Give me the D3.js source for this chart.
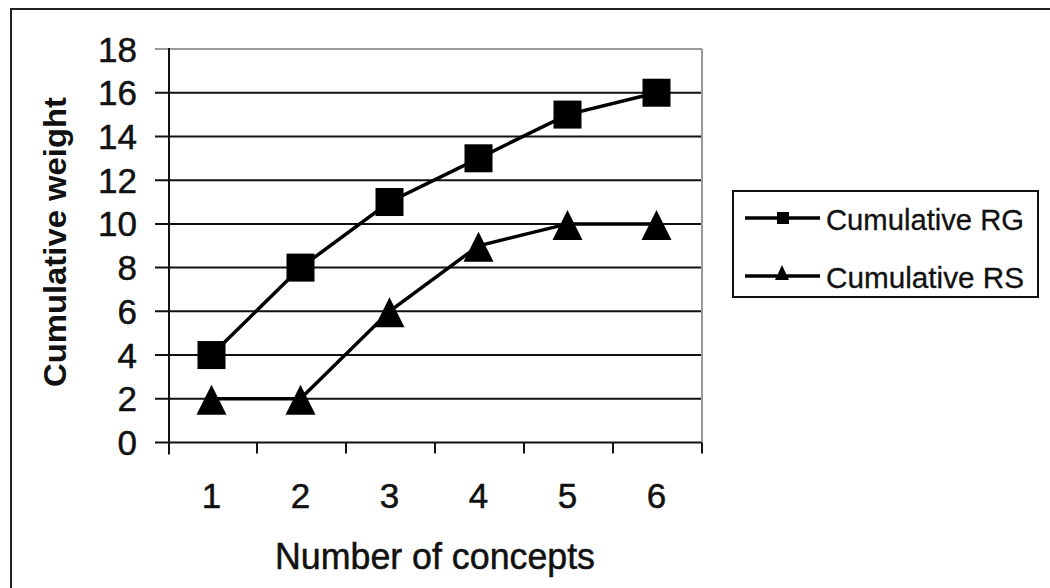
<!DOCTYPE html>
<html><head><meta charset="utf-8">
<script src="https://cdn.jsdelivr.net/npm/d3@7"></script>
<style>html,body{margin:0;padding:0;background:#fff;}svg{display:block;}</style>
</head><body>
<script>
const categories = ["1","2","3","4","5","6"];
const seriesRG = [4, 8, 11, 13, 15, 16];
const seriesRS = [2, 2, 6, 9, 10, 10];
const yTicks = [0, 2, 4, 6, 8, 10, 12, 14, 16, 18];
const seriesNames = ["Cumulative RG", "Cumulative RS"];
const xTitle = "Number of concepts";
const yTitle = "Cumulative weight";

const W = 1050, H = 588;
const svg = d3.select("body").append("svg").attr("width", W).attr("height", H);
const font = "'Liberation Sans', Arial, sans-serif";

// outer frame
svg.append("path").attr("d", `M11,${H} L11,9 L${W},9`).attr("fill","none").attr("stroke","#222").attr("stroke-width",2);

const x = d3.scaleBand().domain(categories).range([168, 702]).padding(0);
const y = d3.scaleLinear().domain([0, 18]).range([442.5, 49]);

const txt = sel => sel.attr("font-family", font).attr("fill","#111").attr("stroke","#111").attr("stroke-width",0.5);

const g = svg.append("g");
yTicks.forEach(t => {
  g.append("line").attr("x1", 155).attr("x2", x.range()[1]).attr("y1", y(t)).attr("y2", y(t))
    .attr("stroke", t === 18 ? "#999" : "#111").attr("stroke-width", 2);
  g.append("text").attr("x", 137).attr("y", y(t)).attr("dy", "0.36em")
    .attr("text-anchor","end").attr("font-size", 35).call(txt).text(t);
});
g.append("line").attr("x1", x.range()[1]).attr("x2", x.range()[1]).attr("y1", y(18)).attr("y2", y(0))
  .attr("stroke","#999").attr("stroke-width",2);
g.append("line").attr("x1", x.range()[0]+1).attr("x2", x.range()[0]+1).attr("y1", y(18)-1).attr("y2", y(0)+12)
  .attr("stroke","#111").attr("stroke-width",2);
categories.forEach(c => {
  const bx = x(c) + x.bandwidth();
  g.append("line").attr("x1", bx).attr("x2", bx).attr("y1", y(0)).attr("y2", y(0)+11)
    .attr("stroke","#111").attr("stroke-width",2);
  g.append("text").attr("x", x(c) + x.bandwidth()/2 - 1).attr("y", 508)
    .attr("text-anchor","middle").attr("font-size", 35).call(txt).text(c);
});

svg.append("text").attr("x", 435).attr("y", 569).attr("text-anchor","middle")
  .attr("font-size", 36).call(txt)
  .attr("textLength", 320).attr("lengthAdjust","spacingAndGlyphs").text(xTitle);
svg.append("text").attr("transform","translate(66,242) rotate(-90)").attr("text-anchor","middle")
  .attr("font-family", font).attr("font-size", 31).attr("font-weight","bold").attr("fill","#111")
  .attr("textLength", 290).attr("lengthAdjust","spacingAndGlyphs").text(yTitle);

const cx = c => x(c) + x.bandwidth()/2 - 1;
const line = d3.line().x(d => cx(d.c)).y(d => y(d.v));
const rg = categories.map((c,i)=>({c, v: seriesRG[i]}));
const rs = categories.map((c,i)=>({c, v: seriesRS[i]}));
[rg, rs].forEach(s => {
  svg.append("path").attr("d", line(s)).attr("fill","none").attr("stroke","#000").attr("stroke-width",3.5);
});
const tri = (px, py, w, up, down) => `M${px},${py - up} L${px + w/2},${py + down} L${px - w/2},${py + down} Z`;
svg.selectAll(".sq").data(rg).join("rect")
  .attr("x", d => cx(d.c) - 14).attr("y", d => y(d.v) - 14).attr("width", 28).attr("height", 28).attr("fill","#000");
svg.selectAll(".tr").data(rs).join("path")
  .attr("d", d => tri(cx(d.c), y(d.v), 30, 14, 16)).attr("fill","#000");

const lg = svg.append("g");
lg.append("rect").attr("x", 733).attr("y", 191).attr("width", 305).attr("height", 106)
  .attr("fill","#fff").attr("stroke","#111").attr("stroke-width",2);
[[218, "sq", seriesNames[0]], [276, "tr", seriesNames[1]]].forEach(([ly, m, name]) => {
  lg.append("line").attr("x1", 745).attr("x2", 820).attr("y1", ly).attr("y2", ly).attr("stroke","#000").attr("stroke-width",3.5);
  if (m === "sq") lg.append("rect").attr("x", 777).attr("y", ly-6).attr("width", 12).attr("height", 12).attr("fill","#000");
  else lg.append("path").attr("d", tri(782, ly, 14, 11, 4)).attr("fill","#000");
  lg.append("text").attr("x", 826).attr("y", ly + 12).attr("font-size", 30).call(txt).attr("stroke-width",0.3)
    .attr("textLength", 198).attr("lengthAdjust","spacingAndGlyphs").text(name);
});
</script>
</body></html>
